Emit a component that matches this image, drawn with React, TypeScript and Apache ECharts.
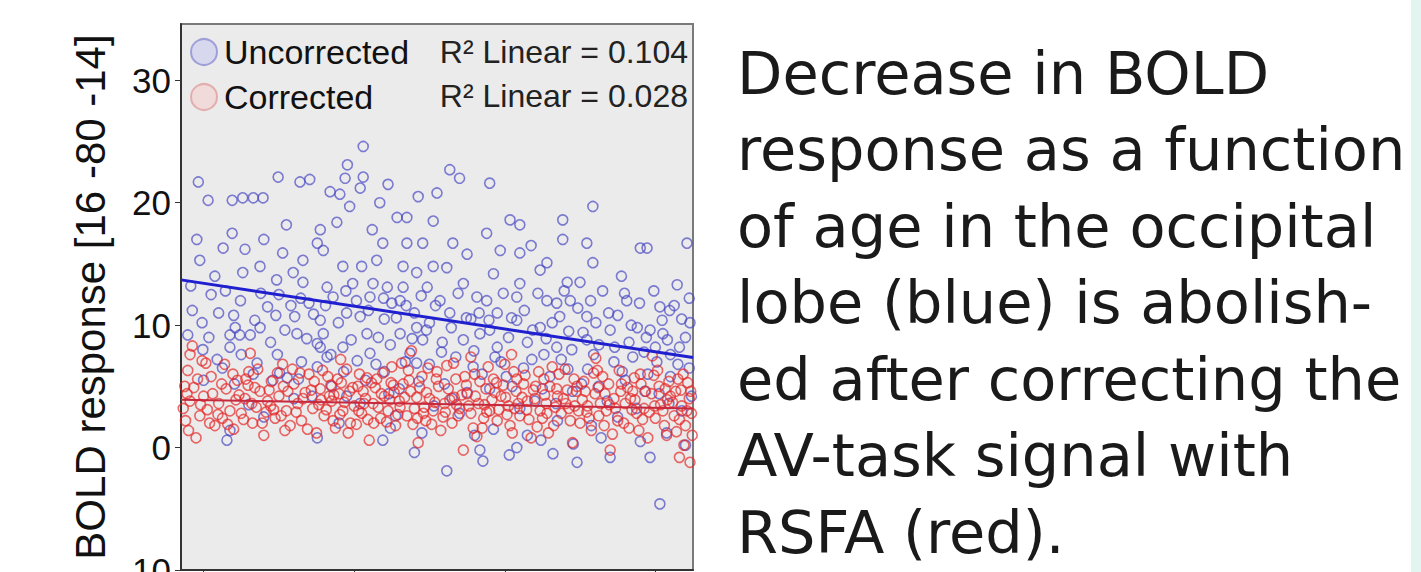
import React, { useEffect, useRef } from "react";
import * as echarts from "echarts";

// ---- data (age in years, BOLD response) ----
const uncorrectedPoints: number[][] = [
  [19.3,21.7],[29.9,22.1],[32.8,21.7],[34.1,21.9],[41.2,24.6],[41.2,22.1],[40.8,21.2],[36.8,20.9],[38.1,20.7],[26.6,20.4],
  [27.9,20.4],[39.4,19.7],[43.4,20.0],[45.7,18.8],[47.0,18.8],[37.7,18.4],[35.5,17.8],[23.8,17.5],[19.1,17.0],[22.6,16.3],
  [19.5,15.3],[30.5,15.9],[33.2,15.3],[35.1,16.7],[35.9,16.1],[42.4,17.8],[43.8,16.7],[47.0,16.7],[49.1,16.7],[25.2,14.3],
  [27.5,14.8],[29.7,13.7],[31.9,14.3],[33.2,13.5],[38.5,14.8],[41.0,14.8],[39.8,13.4],[42.5,13.4],[44.4,13.1],[46.5,13.1],
  [48.3,14.3],[49.7,13.1],[43.0,15.3],[46.5,14.8],[36.4,13.1],[37.2,12.3],[42.1,12.3],[46.1,12.0],
  [23.5,9.2],[24.8,9.2],[26.2,9.2],[27.5,9.8],[32.1,10.7],[32.4,9.3],[35.5,10.4],[35.9,9.3],[40.8,10.7],[41.7,9.3],
  [46.1,9.3],[48.3,9.8],[49.1,8.8],[38.5,8.2],[35.1,8.5],
  [52.7,22.7],[54.0,22.0],[58.0,21.6],[71.7,19.7],[60.7,18.6],[62.0,18.2],[67.7,18.6],[57.6,17.5],[53.1,16.7],[59.4,16.1],
  [62.0,15.9],[67.7,17.0],[70.9,16.7],[71.7,15.1],[78.0,16.3],[78.9,16.3],[84.2,16.7],[50.5,14.8],[52.3,14.7],[65.6,15.1],
  [64.7,14.5],[68.3,13.5],[70.0,13.5],[54.5,13.4],[56.3,12.3],[57.6,12.0],[62.0,13.4],[61.6,12.3],[65.6,12.0],[66.9,11.8],
  [68.7,12.0],[76.2,12.0],[80.6,11.5],[81.9,11.2],[82.9,13.3],[51.4,12.0],[52.7,11.0],[59.0,11.0],[61.6,10.4],[64.7,9.8],
  [67.3,10.7],[70.9,10.7],[74.0,9.6],[77.6,9.8],[79.3,9.6],[81.0,9.3],[56.7,9.3],[54.5,8.8],[59.0,8.2],[66.9,8.2],[70.9,8.8],
  [18.5,11.2],[17.9,9.2],[20.6,20.2],[23.8,20.2],[25.2,20.4],[39.1,23.1],[38.8,22.0],[21.0,12.5],[22.0,11.0],[24.0,10.8],
  [28.5,11.5],[30.0,12.5],[34.0,11.8],[39.0,11.0],[44.0,10.5],[45.0,11.8],[48.0,11.0],[50.0,10.2],[55.5,10.5],[58.0,9.6],
  [60.5,9.0],[63.0,8.6],[65.5,8.9],[68.5,9.5],[72.5,8.4],[75.0,10.8],[76.5,8.6],[78.5,7.8],[80.0,8.2],[82.0,7.6],
  [83.5,10.5],[84.5,12.2],[84.0,9.0],[73.0,12.8],[75.5,14.0],[63.5,16.5],[58.5,14.2],[55.0,15.8],[50.5,18.5],[48.5,20.5],
  [51.0,20.8],[44.5,21.5],[31.0,18.2],[28.0,17.0],[25.5,16.2],[21.5,14.0],
  [30.1,6.1],[29.2,5.5],[31.1,5.7],[35.1,6.6],[40.4,7.1],[42.1,7.7],[47.4,7.7],[48.3,6.9],[27.1,6.9],[23.5,8.2],
  [19.9,8.0],[35.5,8.2],[23.1,0.6],[23.5,1.4],[35.1,0.8],[44.8,1.6],[43.8,0.6],[52.3,-1.9],[56.7,-0.2],[57.1,-1.1],
  [66.4,-0.5],[74.0,-0.8],[80.6,-4.6],[61.6,0.0],[69.1,0.3],[79.3,-0.8],
  [33.0,7.0],[37.0,5.0],[39.0,4.2],[41.5,5.5],[44.0,6.2],[46.0,4.8],[50.0,6.8],[52.0,5.2],[53.5,7.4],[55.0,4.5],
  [57.0,6.0],[59.5,7.0],[61.0,5.0],[62.5,6.5],[64.0,3.8],[66.0,5.8],[67.5,7.2],[69.0,4.6],[71.0,6.4],[72.5,5.0],
  [74.5,7.0],[76.0,5.5],[77.5,3.2],[79.0,6.0],[80.5,4.4],[82.0,5.8],[83.5,3.0],[84.5,6.5],[38.0,2.0],[45.5,2.6],
  [49.0,1.2],[54.0,2.8],[58.5,1.5],[63.0,1.0],[67.0,2.2],[71.5,1.8],[75.0,2.5],[78.0,0.5],[81.5,1.2],[84.0,0.2],
  [26.0,3.5],[28.0,2.5],[32.0,4.0],[20.0,5.5],[22.5,6.5],[25.0,7.6],
  [18.3,13.2],[19.8,10.2],[20.7,9.0],[21.8,7.2],[22.9,12.8],[24.2,9.8],[24.9,12.0],[26.8,10.4],[27.6,12.6],[28.9,8.6],
  [29.6,10.8],[30.8,9.6],[31.6,11.6],[32.9,12.2],[33.7,8.9],[34.6,10.9],[36.2,11.6],[36.9,7.6],[37.9,10.2],[38.9,12.8],
  [39.6,8.8],[40.3,12.0],[41.9,11.2],[43.2,9.0],[43.9,12.2],[44.8,8.4],[45.6,10.6],[46.9,11.6],[47.7,8.9],[48.9,12.4],
  [49.6,9.6],[50.8,11.6],[51.7,8.6],[52.9,9.8],[53.8,12.6],[54.9,10.6],[55.9,7.9],[56.6,11.0],[57.9,10.4],[58.7,7.4],
  [59.8,12.6],[60.9,10.6],[62.6,11.2],[63.7,9.6],[64.4,12.6],[65.2,7.6],[66.3,10.2],[67.9,12.8],[68.9,8.0],[69.7,11.4],
  [70.4,9.4],[71.4,12.0],[72.1,10.2],[73.8,11.0],[74.6,8.2],[75.9,12.6],[76.8,10.0],[77.9,11.8],[78.8,9.0],[79.8,12.8],
  [80.9,10.4],[81.6,8.8],[82.5,11.6],[83.2,8.2],[84.6,10.2],
  [24.1,5.2],[26.6,6.0],[29.8,7.6],[32.6,5.6],[34.4,4.2],[36.4,7.4],[38.6,6.2],[40.8,3.6],[42.9,6.8],[44.6,4.4],
  [46.8,7.0],[48.6,5.4],[50.6,3.4],[51.6,7.8],[53.0,4.0],[55.8,6.6],[58.0,4.8],[60.2,5.8],[62.0,3.2],[63.6,7.2],
  [65.0,4.8],[66.8,3.6],[68.4,6.4],[70.2,5.2],[71.8,7.6],[73.6,3.8],[75.6,6.2],[77.0,7.4],[78.6,4.6],[80.2,7.0],
  [81.8,3.6],[83.0,6.8],[84.8,4.2],[56.0,1.0],[64.8,0.6],[72.8,0.8],[48.0,-0.4],[60.6,-0.6],[69.6,-1.2]
];

const correctedPoints: number[][] = [
  [17.5,5.0],[17.8,4.4],[18.2,7.6],[18.5,8.3],[18.2,3.8],[17.6,2.2],[18.0,1.4],[19.0,0.8],[19.5,2.6],[20.0,4.2],
  [20.5,3.1],[21.0,5.8],[21.5,1.8],[22.0,3.6],[22.5,2.4],[23.0,4.8],[23.5,3.0],[24.0,1.5],[24.5,5.5],[25.0,2.8],
  [25.5,4.0],[26.0,6.2],[26.5,2.0],[27.0,3.3],[27.5,4.6],[28.0,1.0],[28.5,3.8],[29.0,5.4],[29.5,2.4],[30.0,4.2],
  [30.5,6.8],[31.0,3.0],[31.5,1.8],[32.0,5.2],[32.5,3.6],[33.0,2.2],[33.5,4.5],[34.0,6.0],[34.5,3.2],[35.0,1.2],
  [35.5,4.8],[36.0,2.6],[36.5,5.8],[37.0,3.8],[37.5,1.6],[38.0,4.4],[38.5,3.0],[39.0,6.4],[39.5,2.0],[40.0,3.4],
  [40.5,5.0],[41.0,2.8],[41.5,4.0],[42.0,0.6],[42.5,3.6],[43.0,5.6],[43.5,2.4],[44.0,4.2],[44.5,3.0],[45.0,6.6],
  [45.5,1.8],[46.0,3.8],[46.5,5.2],[47.0,2.6],[47.5,4.6],[48.0,3.2],[48.5,0.4],[49.0,5.8],[49.5,2.2],[50.0,4.0],
  [50.5,3.0],[51.0,6.2],[51.5,1.4],[52.0,3.6],[52.5,4.8],[53.0,2.0],[53.5,5.6],[54.0,3.2],[54.5,-0.2],[55.0,4.4],
  [55.5,2.8],[56.0,6.0],[56.5,3.6],[57.0,1.6],[57.5,4.8],[58.0,3.0],[58.5,5.6],[59.0,2.2],[59.5,4.2],[60.0,6.8],
  [60.5,3.4],[61.0,1.2],[61.5,4.6],[62.0,2.6],[62.5,5.2],[63.0,3.8],[63.5,0.8],[64.0,4.0],[64.5,6.2],[65.0,2.4],
  [65.5,3.6],[66.0,5.0],[66.5,1.8],[67.0,4.2],[67.5,2.8],[68.0,6.4],[68.5,3.2],[69.0,0.4],[69.5,4.6],[70.0,2.0],
  [70.5,5.4],[71.0,3.4],[71.5,1.4],[72.0,4.4],[72.5,2.6],[73.0,5.8],[73.5,3.0],[74.0,-0.2],[74.5,4.0],[75.0,2.2],
  [75.5,5.2],[76.0,3.6],[76.5,1.6],[77.0,4.6],[77.5,2.8],[78.0,6.0],[78.5,3.2],[79.0,0.8],[79.5,4.4],[80.0,2.4],
  [80.5,5.0],[81.0,3.0],[81.5,1.0],[82.0,4.2],[82.5,2.6],[83.0,5.6],[83.5,3.4],[84.0,1.8],[84.5,4.0],[84.8,2.8],
  [17.3,3.2],[19.2,5.6],[20.8,2.0],[22.8,6.8],[24.3,3.9],[26.8,4.9],[28.3,2.9],[30.8,1.4],[32.8,6.1],[34.3,4.7],
  [36.3,3.1],[38.3,5.3],[40.3,1.9],[42.8,4.9],[44.3,2.1],[46.3,6.9],[48.3,4.1],[50.3,1.9],[52.3,6.7],[54.3,4.3],
  [56.3,0.9],[58.3,3.9],[60.3,2.7],[62.3,4.1],[64.3,1.7],[66.3,6.6],[68.3,4.7],[70.3,3.9],[72.3,6.3],[74.3,1.1],
  [76.3,4.9],[78.3,2.3],[80.3,6.3],[82.3,3.7],[84.3,5.3],[37.3,4.3],[41.3,3.6],[45.3,4.5],[49.3,3.3],[53.3,4.1],
  [57.3,3.5],[61.3,3.2],[65.3,4.3],[69.3,3.4],[73.3,4.4],[77.3,3.9],[81.3,4.8],[83.8,0.2],[83.2,-0.8],[82.8,1.3],[84.6,-1.2],
  [17.9,6.3],[18.7,4.9],[19.6,3.5],[20.3,6.9],[21.2,4.4],[21.9,2.7],[22.4,5.2],[23.2,1.9],[23.9,6.0],[24.7,4.3],
  [25.3,2.3],[25.9,5.1],[26.4,3.6],[27.2,6.4],[27.8,2.0],[28.7,4.7],[29.3,3.1],[29.8,6.1],[30.3,2.6],[31.2,4.6],
  [31.8,6.4],[32.3,2.9],[33.2,4.0],[33.8,1.5],[34.7,5.4],[35.3,3.5],[35.8,6.3],[36.7,4.2],[37.2,2.2],[37.8,5.6],
  [38.7,3.7],[39.2,1.2],[39.8,4.9],[40.7,6.0],[41.2,4.6],[41.8,2.3],[42.3,5.3],[43.2,3.3],[43.8,6.1],[44.7,3.9],
  [45.2,5.1],[45.8,2.7],[46.7,4.1],[47.2,6.3],[47.8,1.9],[48.7,4.9],[49.2,2.8],[49.8,6.5],[50.7,3.7],[51.2,5.0],
  [51.8,2.5],[52.7,3.9],[53.2,6.9],[53.8,2.6],[54.7,5.8],[55.2,3.4],[55.8,1.6],[56.7,5.4],[57.2,2.4],[57.8,6.6],
  [58.7,4.5],[59.2,3.1],[59.8,5.1],[60.7,1.8],[61.2,6.2],[61.8,3.6],[62.7,5.9],[63.2,2.3],[63.8,4.7],[64.7,3.0],
  [65.2,5.6],[65.8,1.2],[66.7,3.3],[67.2,6.0],[67.8,4.0],[68.7,2.2],[69.2,5.6],[69.8,3.0],[70.7,4.6],[71.2,2.4],
  [71.8,6.1],[72.7,3.6],[73.2,1.8],[73.8,5.2],[74.7,3.2],[75.2,6.3],[75.8,2.0],[76.7,4.0],[77.2,5.7],[77.8,1.4],
  [78.7,4.6],[79.2,2.9],[79.8,5.9],[80.7,3.5],[81.2,1.8],[81.8,5.4],[82.7,4.6],[83.2,2.3],[83.7,6.0],[84.2,3.0],
  [84.7,4.6],[84.9,1.0],[55.5,7.4],[38.2,7.2],[26.2,7.7],[60.9,7.6],[47.6,7.9],[72.1,7.3],[19.8,7.1],[79.6,7.5],
  [35.6,3.9],[36.9,5.1],[38.1,2.7],[39.4,4.6],[40.6,3.0],[41.7,5.7],[42.6,2.0],[43.6,4.4],[44.9,5.3],[46.1,3.3],
  [47.3,5.5],[48.4,2.4],[49.6,4.5],[50.9,5.6],[52.1,2.9],[53.6,3.5],[54.9,5.1],[56.1,4.2],[57.6,2.9],[58.9,5.3],
  [60.1,4.1],[61.6,5.6],[62.9,3.1],[64.1,5.0],[65.6,2.8],[66.9,4.8],[68.1,3.6],[69.6,5.0],[70.9,2.9],[72.4,4.9],
  [73.9,3.5],[75.4,4.6],[76.9,3.1],[78.1,5.2],[79.9,3.4],[81.6,3.9],[83.4,4.7],[30.6,5.0],[28.9,3.4],[25.6,5.6]
];

const uncorrectedFit: number[][] = [[17, 13.7], [85, 7.35]];
const correctedFit: number[][] = [[17, 3.9], [85, 3.2]];

const seriesNames = ["Uncorrected", "Corrected"];
const r2Labels = ["R\u00B2 Linear = 0.104", "R\u00B2 Linear = 0.028"];
const yTicks = [-10, 0, 10, 20, 30];
const xTicks = [20, 40, 60, 80];
const yAxisTitle = "BOLD response [16 -80 -14]";
const captionLines = [
  "Decrease in BOLD",
  "response as a function",
  "of age in the occipital",
  "lobe (blue) is abolish-",
  "ed after correcting the",
  "AV-task signal with",
  "RSFA (red).",
];

const SANS = "'Liberation Sans', Arial, sans-serif";

export default function App() {
  const ref = useRef<HTMLDivElement>(null);

  useEffect(() => {
    if (!ref.current) return;
    const chart = echarts.init(ref.current, null, { renderer: "svg" });

    const captionGraphics = captionLines.map((line, i) => ({
      type: "text",
      x: 737,
      y: 73 + i * 76.5,
      style: {
        text: line,
        fill: "#1a1a1a",
        font: "59px 'DejaVu Sans', Verdana, sans-serif",
        align: "left",
        verticalAlign: "middle",
      },
    }));

    const r2Graphics = r2Labels.map((t, i) => ({
      type: "text",
      x: 688,
      y: 52 + i * 44,
      z: 10,
      style: {
        text: t,
        fill: "#222",
        font: "32px " + SANS,
        align: "right",
        verticalAlign: "middle",
      },
    }));

    chart.setOption({
      animation: false,
      backgroundColor: "#ffffff",
      grid: {
        left: 181,
        top: 24,
        width: 512,
        height: 546,
        show: true,
        backgroundColor: "#ebebeb",
        borderColor: "#7a7a7a",
        borderWidth: 2,
        containLabel: false,
        outerBoundsMode: "none",
      },
      legend: {
        orient: "vertical",
        left: 190,
        top: 35,
        padding: 0,
        itemGap: 11,
        itemWidth: 30,
        itemHeight: 26,
        textStyle: { fontSize: 34, fontFamily: SANS, color: "#111" },
        data: [
          {
            name: seriesNames[0],
            icon: "circle",
            itemStyle: { color: "rgba(200,200,240,0.7)", borderColor: "#8f8fd6", borderWidth: 2 },
          },
          {
            name: seriesNames[1],
            icon: "circle",
            itemStyle: { color: "rgba(245,205,205,0.7)", borderColor: "#e0a0a0", borderWidth: 2 },
          },
        ],
      },
      xAxis: {
        type: "value",
        min: 17,
        max: 85,
        axisLine: { show: true, onZero: false, lineStyle: { color: "#333", width: 2 } },
        axisTick: { show: true, customValues: xTicks, length: 6, lineStyle: { color: "#333" } },
        axisLabel: { customValues: xTicks, fontSize: 34, fontFamily: SANS, color: "#111" },
        splitLine: { show: false },
      },
      yAxis: {
        type: "value",
        min: -10,
        max: 34.6,
        name: yAxisTitle,
        nameLocation: "middle",
        nameGap: 70,
        nameTextStyle: { fontSize: 42, fontFamily: SANS, color: "#111" },
        axisLine: { show: true, onZero: false, lineStyle: { color: "#333", width: 2 } },
        axisTick: { show: true, length: 6, customValues: yTicks, lineStyle: { color: "#333" } },
        axisLabel: {
          fontSize: 35,
          fontFamily: SANS,
          color: "#111",
          margin: 10,
          customValues: yTicks,
        },
        splitLine: { show: false },
      },
      series: [
        {
          name: seriesNames[0],
          type: "scatter",
          data: uncorrectedPoints,
          symbol: "circle",
          symbolSize: 10,
          itemStyle: { color: "rgba(0,0,0,0)", borderColor: "rgba(68,68,195,0.85)", borderWidth: 1.6 },
          z: 3,
        },
        {
          name: seriesNames[1],
          type: "scatter",
          data: correctedPoints,
          symbol: "circle",
          symbolSize: 10,
          itemStyle: { color: "rgba(0,0,0,0)", borderColor: "rgba(230,35,35,0.85)", borderWidth: 1.6 },
          z: 4,
        },
        {
          name: "Uncorrected fit",
          type: "line",
          data: uncorrectedFit,
          symbol: "none",
          lineStyle: { color: "#1f1fd0", width: 3 },
          z: 5,
        },
        {
          name: "Corrected fit",
          type: "line",
          data: correctedFit,
          symbol: "none",
          lineStyle: { color: "#c8283c", width: 2 },
          z: 5,
        },
      ],
      graphic: [
        {
          type: "rect",
          shape: { x: 1411, y: 0, width: 10, height: 572 },
          style: { fill: "#e2f5f1" },
        },
        ...r2Graphics,
        ...captionGraphics,
      ],
    });

    return () => chart.dispose();
  }, []);

  return (
    <div
      ref={ref}
      style={{ position: "fixed", left: 0, top: 0, width: 1421, height: 572, background: "#fff" }}
    />
  );
}
